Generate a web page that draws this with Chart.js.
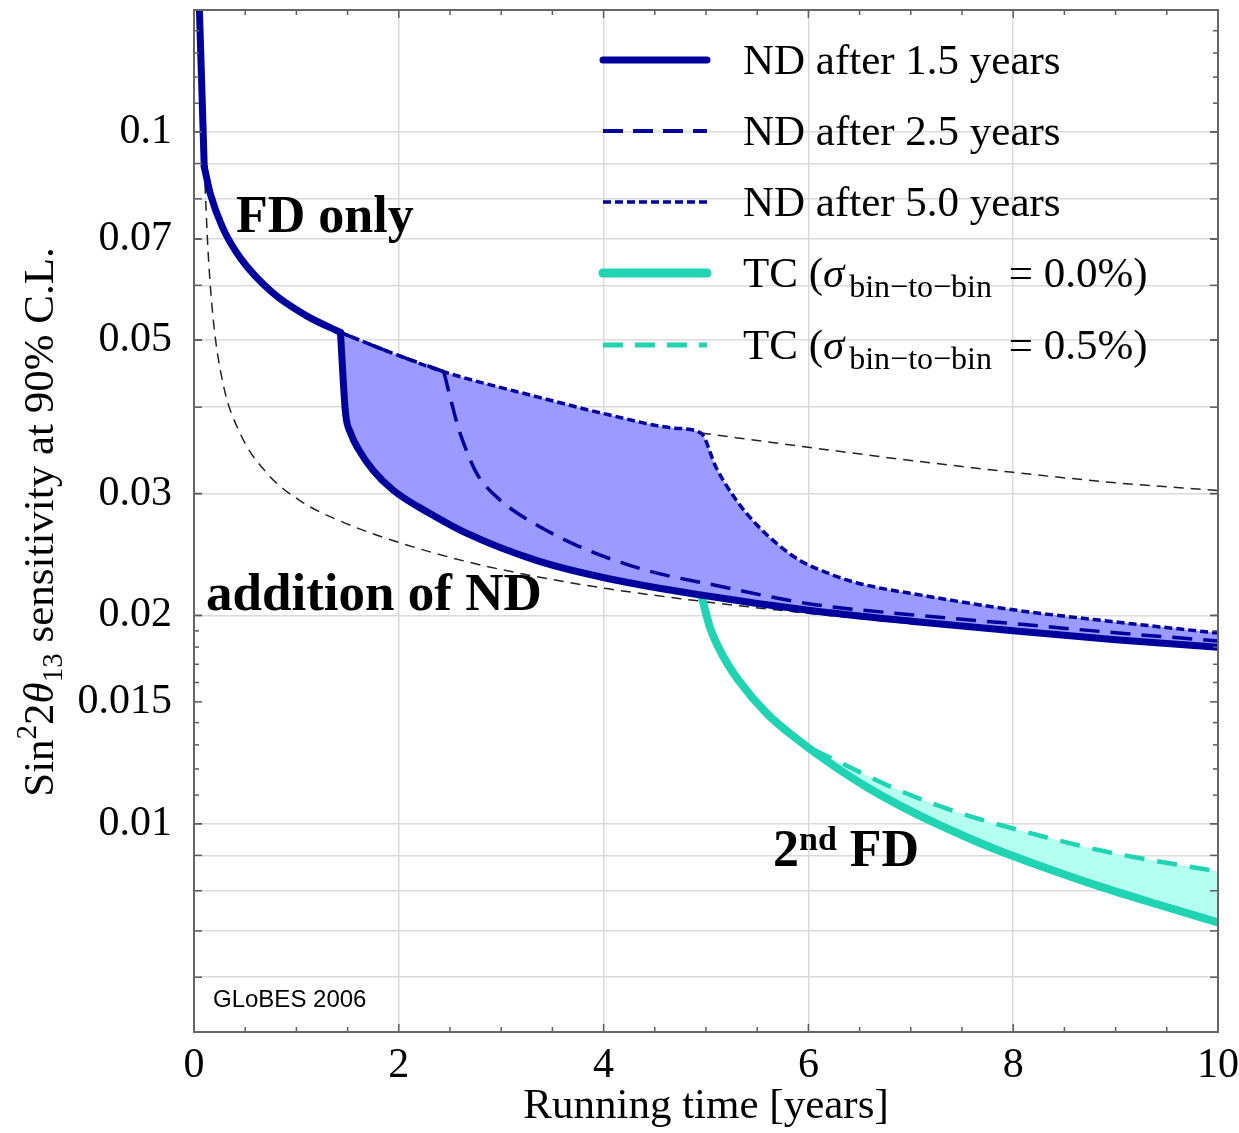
<!DOCTYPE html>
<html>
<head>
<meta charset="utf-8">
<script src="https://cdn.jsdelivr.net/npm/chart.js@4.4.1/dist/chart.umd.min.js"></script>
<style>
html,body{margin:0;padding:0;background:#ffffff;}
#wrap{width:1239px;height:1133px;position:relative;}
</style>
</head>
<body>
<div id="wrap"><canvas id="c" width="1239" height="1133"></canvas></div>
<script>
// ---------------- data ----------------
// FD only: steep start, then the FD-only curve up to the ND switch-on
const fdTopX = [0.05, 0.1];
const fdTopY = [0.155, 0.089];
const fdX = [0.1, 0.16, 0.28, 0.45, 0.77, 1.1, 1.43];
const fdY = [0.089, 0.0813, 0.0727, 0.0658, 0.0585, 0.0542, 0.0513];
// ND after 1.5 years (thick solid)
const nd15X = [1.43, 1.48, 1.53, 1.61, 1.75, 1.95, 2.3, 2.66, 3.35, 4.05, 4.95, 6, 7, 8, 9, 10];
const nd15Y = [0.0513, 0.0392, 0.0367, 0.0347, 0.0324, 0.0303, 0.0281, 0.0263, 0.024, 0.0226, 0.02141, 0.02035, 0.01962, 0.019, 0.01845, 0.01799];
// ND after 2.5 years (dashed); index 3 (x = 2.44) is where the ND is switched on
const nd25X = [1.43, 1.95, 2.3, 2.44, 2.51, 2.58, 2.66, 2.75, 2.83, 2.91, 2.99, 3.17, 3.7, 4.39, 5.1, 6, 7, 8, 9, 10];
const nd25Y = [0.0513, 0.0478, 0.0458, 0.045, 0.0409, 0.0374, 0.03465, 0.0323, 0.031, 0.0301, 0.02935, 0.02803, 0.0254, 0.0233, 0.0221, 0.0208, 0.02005, 0.01946, 0.01888, 0.01837];
const nd25Kink = 3;
// ND after 5.0 years (short dashes)
const nd50X = [1.43, 1.95, 2.44, 3.35, 4.05, 4.7, 4.95, 5.1, 5.3, 5.5, 5.72, 5.92, 6.2, 6.47, 7.14, 8, 8.96, 10];
const nd50Y = [0.0513, 0.0478, 0.045, 0.0414, 0.039, 0.0373, 0.0367, 0.0327, 0.0293, 0.027, 0.0252, 0.024, 0.023, 0.0223, 0.02135, 0.02038, 0.0196, 0.01886];
// FD only, continued (thin black dashed, upper)
const fdContX = [4.95, 6, 7, 8, 9, 10];
const fdContY = [0.0367, 0.035, 0.0335, 0.0322, 0.0311, 0.0303];
// ND from the start (thin black dashed, lower)
const ndStartX = [0.1, 0.137, 0.186, 0.283, 0.449, 0.713, 1.035, 1.426, 1.95, 2.66, 3.35, 4.05, 4.75, 6, 8, 10];
const ndStartY = [0.089, 0.0674, 0.0539, 0.0433, 0.0367, 0.0321, 0.0293, 0.02739, 0.02564, 0.02393, 0.02275, 0.02185, 0.02115, 0.02014, 0.01889, 0.01788];
// TC, sigma bin-to-bin = 0.0% (turquoise solid)
const tc0X = [4.95, 5.04, 5.17, 5.315, 5.593, 5.918, 6.243, 6.569, 6.895, 7.22, 7.546, 7.87, 8.196, 8.85, 9.43, 10];
const tc0Y = [0.0215, 0.0192, 0.01744, 0.01614, 0.01444, 0.01315, 0.01214, 0.0113, 0.01062, 0.01005, 0.00956, 0.00913, 0.00876, 0.00811, 0.00763, 0.0072];
// TC, sigma bin-to-bin = 0.5% (turquoise dashed)
const tc5X = [4.95, 5.04, 5.17, 5.315, 5.593, 5.918, 6.34, 6.895, 7.448, 8.034, 8.913, 10];
const tc5Y = [0.0215, 0.0192, 0.01744, 0.01614, 0.01444, 0.01315, 0.0122, 0.01116, 0.0104, 0.00981, 0.00911, 0.00853];

// ---------------- axes / labels ----------------
const xTickLabels = [0, 2, 4, 6, 8, 10];
const xGridValues = [2, 4, 6, 8];
const xMinorTicks = [0.5, 1, 1.5, 2.5, 3, 3.5, 4.5, 5, 5.5, 6.5, 7, 7.5, 8.5, 9, 9.5];
const yTickLabels = [0.1, 0.07, 0.05, 0.03, 0.02, 0.015, 0.01];
const yGridValues = [0.1, 0.09, 0.08, 0.07, 0.06, 0.05, 0.04, 0.03, 0.02, 0.01, 0.009, 0.008, 0.007, 0.006];
const yMinorTicks = [0.14, 0.13, 0.12, 0.11, 0.019, 0.018, 0.017, 0.016, 0.014, 0.013, 0.012, 0.011];

const legendLabels = ['ND after 1.5 years', 'ND after 2.5 years', 'ND after 5.0 years', 'TC (σbin−to−bin = 0.0%)', 'TC (σbin−to−bin = 0.5%)'];
const tcSigmaValues = ['0.0%', '0.5%'];

// ---------------- style ----------------
const NAVY = '#00009c';
const BLUEFILL = '#9a9aff';
const TURQ = '#1fd3b3';
const TURQFILL = '#b3fff0';
const GRID = '#dadada';
const SERIF = '"Liberation Serif", "Times New Roman", serif';

function pts(xs, ys) { return xs.map((x, i) => ({ x: x, y: ys[i] })); }

function drawParts(ctx, parts, x, y, align) {
  let w = 0;
  parts.forEach(p => { ctx.font = p.f; p.w = ctx.measureText(p.t).width + (p.gap || 0); w += p.w; });
  let cx = align === 'center' ? x - w / 2 : x;
  parts.forEach(p => { ctx.font = p.f; ctx.fillText(p.t, cx, y + (p.dy || 0)); cx += p.w; });
}

const deco = {
  id: 'deco',
  afterDatasetsDraw(chart) {
    const { ctx, chartArea: a, scales } = chart;
    const xs = scales.x, ys = scales.y;
    ctx.save();
    ctx.strokeStyle = '#5c5c5c';
    ctx.lineWidth = 1.5;
    const tick = (px, py, dx, dy) => { ctx.beginPath(); ctx.moveTo(px, py); ctx.lineTo(px + dx, py + dy); ctx.stroke(); };
    const yAll = yGridValues.concat(yTickLabels, yMinorTicks);
    yAll.forEach(v => {
      const py = ys.getPixelForValue(v);
      const L = yMinorTicks.includes(v) ? 5 : 8;
      tick(a.left, py, L, 0); tick(a.right, py, -L, 0);
    });
    xTickLabels.concat(xMinorTicks).forEach(v => {
      const px = xs.getPixelForValue(v);
      const L = xMinorTicks.includes(v) ? 5 : 8;
      tick(px, a.bottom, 0, -L); tick(px, a.top, 0, L);
    });
    ctx.lineWidth = 2;
    ctx.strokeStyle = '#666666';
    ctx.strokeRect(a.left, a.top, a.right - a.left, a.bottom - a.top);
    ctx.restore();
  },
  afterDraw(chart) {
    const { ctx } = chart;
    ctx.save();
    ctx.fillStyle = '#000';
    ctx.textBaseline = 'alphabetic';
    ctx.textAlign = 'left';
    const main = '43px ' + SERIF;
    const ital = 'italic 43px ' + SERIF;
    const small = '32px ' + SERIF;
    // annotations
    ctx.font = 'bold 52px ' + SERIF;
    ctx.fillText('FD only', 236, 232);
    ctx.font = 'bold 53px ' + SERIF;
    ctx.fillText('addition of ND', 206, 610);
    drawParts(ctx, [
      { t: '2', f: 'bold 52px ' + SERIF },
      { t: 'nd', f: 'bold 34px ' + SERIF, dy: -16 },
      { t: ' FD', f: 'bold 52px ' + SERIF }
    ], 773, 866, 'left');
    ctx.font = '24px "Liberation Sans", Arial, sans-serif';
    ctx.fillText('GLoBES 2006', 213, 1007);

    // legend
    const rows = [60, 131, 202, 273, 345];
    const styles = [
      { c: NAVY, w: 7, d: [] },
      { c: NAVY, w: 4, d: [20, 10] },
      { c: NAVY, w: 3.5, d: [8, 4] },
      { c: TURQ, w: 9, d: [] },
      { c: TURQ, w: 5, d: [20, 12] }
    ];
    rows.forEach((ry, i) => {
      const s = styles[i];
      ctx.save();
      ctx.strokeStyle = s.c; ctx.lineWidth = s.w; ctx.setLineDash(s.d);
      ctx.lineCap = s.d.length ? 'butt' : 'round';
      ctx.beginPath(); ctx.moveTo(603, ry); ctx.lineTo(707, ry); ctx.stroke();
      ctx.restore();
      if (i < 3) {
        ctx.font = main; ctx.fillText(legendLabels[i], 743, ry + 14);
      } else {
        drawParts(ctx, [
          { t: 'TC (', f: main },
          { t: 'σ', f: ital, gap: 5 },
          { t: 'bin−to−bin', f: small, dy: 10, gap: 6 },
          { t: ' = ' + tcSigmaValues[i - 3] + ')', f: main }
        ], 743, ry + 14, 'left');
      }
    });

    // x title
    ctx.textAlign = 'center';
    ctx.font = main;
    ctx.fillText('Running time [years]', 706, 1118);

    // y title (rotated)
    ctx.textAlign = 'left';
    ctx.translate(53, 522);
    ctx.rotate(-Math.PI / 2);
    drawParts(ctx, [
      { t: 'Sin', f: main },
      { t: '2', f: '29px ' + SERIF, dy: -17 },
      { t: '2', f: main },
      { t: 'θ', f: ital },
      { t: '13', f: '29px ' + SERIF, dy: 9 },
      { t: ' sensitivity at 90% C.L.', f: main }
    ], 0, 0, 'center');
    ctx.restore();
  }
};

const lineBase = { pointRadius: 0, borderCapStyle: 'butt', borderJoinStyle: 'round', cubicInterpolationMode: 'monotone', fill: false };

const datasets = [
  Object.assign({}, lineBase, { label: 'FD only (start)', data: pts(fdTopX, fdTopY), borderColor: NAVY, borderWidth: 7, borderCapStyle: 'round', cubicInterpolationMode: 'default', tension: 0 }),
  Object.assign({}, lineBase, { label: 'FD only', data: pts(fdX, fdY), borderColor: NAVY, borderWidth: 7, borderCapStyle: 'round' }),
  Object.assign({}, lineBase, { label: 'ND after 1.5 years', data: pts(nd15X, nd15Y), borderColor: NAVY, borderWidth: 7, borderCapStyle: 'round' }),
  Object.assign({}, lineBase, { label: 'ND after 2.5 years (before ND)', data: pts(nd25X.slice(0, nd25Kink + 1), nd25Y.slice(0, nd25Kink + 1)), borderColor: NAVY, borderWidth: 3.5, borderDash: [20, 11] }),
  Object.assign({}, lineBase, { label: 'ND after 2.5 years', data: pts(nd25X.slice(nd25Kink), nd25Y.slice(nd25Kink)), borderColor: NAVY, borderWidth: 3.5, borderDash: [20, 11] }),
  Object.assign({}, lineBase, { label: 'ND after 5.0 years', data: pts(nd50X, nd50Y), borderColor: NAVY, borderWidth: 3.5, borderDash: [8, 4], fill: 2, backgroundColor: BLUEFILL }),
  Object.assign({}, lineBase, { label: 'TC 0.0%', data: pts(tc0X, tc0Y), borderColor: TURQ, borderWidth: 8 }),
  Object.assign({}, lineBase, { label: 'TC 0.5%', data: pts(tc5X, tc5Y), borderColor: TURQ, borderWidth: 4.5, borderDash: [20, 13], fill: 6, backgroundColor: TURQFILL }),
  Object.assign({}, lineBase, { label: 'FD only (cont.)', data: pts(fdContX, fdContY), borderColor: '#222', borderWidth: 1.5, borderDash: [10, 7] }),
  Object.assign({}, lineBase, { label: 'ND from start', data: pts(ndStartX, ndStartY), borderColor: '#222', borderWidth: 1.5, borderDash: [10, 7] })
];

new Chart(document.getElementById('c'), {
  type: 'line',
  data: { datasets: datasets },
  options: {
    responsive: false,
    animation: false,
    devicePixelRatio: 1,
    layout: { padding: { top: 10, right: 21, left: 0, bottom: 0 } },
    plugins: { legend: { display: false }, tooltip: { enabled: false } },
    scales: {
      x: {
        type: 'linear', min: 0, max: 10,
        afterBuildTicks: s => { s.ticks = xTickLabels.map(v => ({ value: v })); },
        afterFit: s => { s.height = 101; s.paddingLeft = 0; s.paddingRight = 0; },
        ticks: { font: { family: SERIF, size: 42 }, color: '#000', padding: 9, maxRotation: 0, autoSkip: false },
        grid: { drawTicks: false, lineWidth: 1.5, color: c => (c.tick && xGridValues.includes(c.tick.value)) ? GRID : 'rgba(0,0,0,0)' },
        border: { display: false }
      },
      y: {
        type: 'logarithmic', min: 0.005, max: 0.15,
        afterBuildTicks: s => {
          const vals = Array.from(new Set(yGridValues.concat(yTickLabels))).sort((p, q) => p - q);
          s.ticks = vals.map(v => ({ value: v }));
        },
        afterFit: s => { s.width = 194; s.paddingTop = 0; s.paddingBottom = 0; },
        ticks: {
          font: { family: SERIF, size: 42 }, color: '#000', padding: 22, autoSkip: false,
          callback: v => yTickLabels.includes(v) ? String(v) : ''
        },
        grid: { drawTicks: false, lineWidth: 1.5, color: c => (c.tick && yGridValues.includes(c.tick.value)) ? GRID : 'rgba(0,0,0,0)' },
        border: { display: false }
      }
    }
  },
  plugins: [deco]
});
</script>
</body>
</html>
